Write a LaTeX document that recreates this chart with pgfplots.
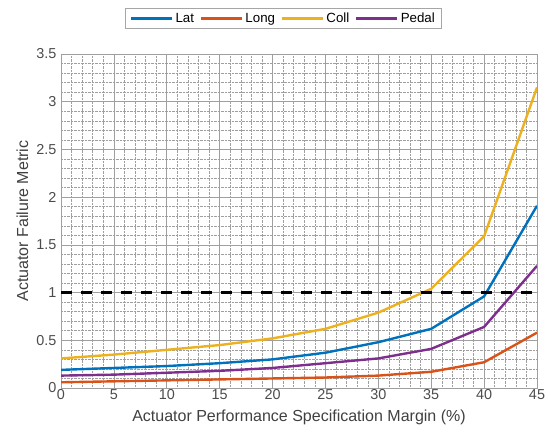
\documentclass[border=0pt]{standalone}
\usepackage{pgfplots}
\pgfplotsset{compat=1.18}
\usepackage{fontspec}
\setmainfont{Liberation Sans}
\definecolor{mblue}{rgb}{0,0.447,0.741}
\definecolor{morange}{rgb}{0.85,0.325,0.098}
\definecolor{myellow}{rgb}{0.929,0.694,0.125}
\definecolor{mpurple}{rgb}{0.494,0.184,0.556}
\begin{document}
\begin{tikzpicture}
\begin{axis}[
  at={(0,0)}, anchor=south west,
  scale only axis, width=476pt, height=334pt,
  xmin=0, xmax=45, ymin=0, ymax=3.5,
  xtick={0,5,...,45}, ytick={0,0.5,...,3.5},
  yticklabels={0,0.5,1,1.5,2,2.5,3,3.5},
  minor x tick num=4, minor y tick num=4,
  grid=both,
  major grid style={gray!75, line width=0.7pt},
  minor grid style={gray!75, densely dotted, line width=0.5pt},
  axis line style={gray!75, line width=0.7pt},
  tick style={draw=none},
  tick label style={font=\fontsize{14.4}{16}\selectfont, text=black!70},
  yticklabel style={xshift=-1pt},
  xticklabel style={yshift=2pt},
  /pgf/number format/assume math mode=true,
  xlabel={Actuator Performance Specification Margin (\%)},
  ylabel={Actuator Failure Metric},
  label style={font=\fontsize{16}{18}\selectfont, text=black!75},
  xlabel style={at={(axis description cs:0.5,-0.100)}, anchor=base},
  ylabel style={at={(axis description cs:-0.0693,0.5)}, anchor=base},
  legend style={at={(0.4674,1.0749)}, anchor=south, legend columns=4,
    font=\fontsize{13.3}{15}\selectfont, draw=gray!70, line width=0.7pt,
    inner xsep=4pt, inner ysep=2pt,
    nodes={inner sep=2.5pt},
    /tikz/every even column/.append style={column sep=3pt}},
  legend image code/.code={\draw[#1] (0pt,0pt) -- (41pt,0pt);},
]
\addplot[mblue, line width=2.4pt] coordinates {(0,0.19)(5,0.21)(10,0.23)(15,0.26)(20,0.30)(25,0.37)(30,0.48)(35,0.62)(40,0.96)(45,1.91)};
\addlegendentry{Lat}
\addplot[morange, line width=2.4pt] coordinates {(0,0.06)(5,0.07)(10,0.08)(15,0.09)(20,0.10)(25,0.11)(30,0.13)(35,0.17)(40,0.27)(45,0.58)};
\addlegendentry{Long}
\addplot[myellow, line width=2.4pt] coordinates {(0,0.31)(5,0.35)(10,0.40)(15,0.45)(20,0.52)(25,0.62)(30,0.79)(35,1.04)(40,1.59)(45,3.15)};
\addlegendentry{Coll}
\addplot[mpurple, line width=2.4pt] coordinates {(0,0.13)(5,0.14)(10,0.16)(15,0.18)(20,0.21)(25,0.26)(30,0.31)(35,0.41)(40,0.64)(45,1.28)};
\addlegendentry{Pedal}
\addplot[black, line width=2.6pt, dash pattern=on 11pt off 9pt, forget plot] coordinates {(0,1)(45,1)};
\end{axis}
\path (-61pt,-52pt) rectangle (490pt,388pt);
\end{tikzpicture}
\end{document}
